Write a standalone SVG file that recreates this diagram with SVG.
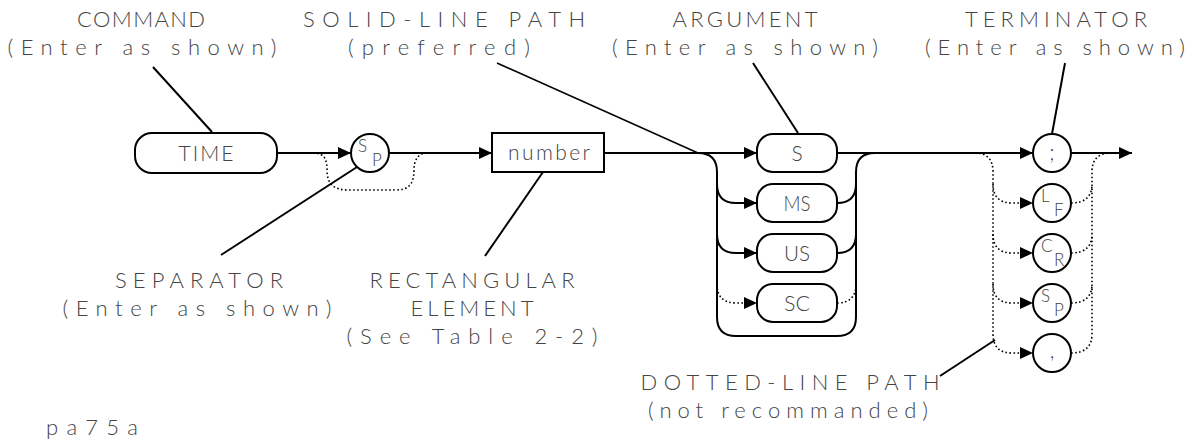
<svg xmlns="http://www.w3.org/2000/svg" width="1199" height="445" viewBox="0 0 1199 445">
<style>
.bg{fill:#fff}
.nd{fill:#fff;stroke:#000;stroke-width:2}
.cn{fill:none;stroke:#000;stroke-width:2}
.dt{fill:none;stroke:#000;stroke-width:1.6;stroke-dasharray:1.6 2.4}
.ld{fill:none;stroke:#000;stroke-width:2}
.lb{font-family:Lato,"Liberation Sans",Arial,sans-serif;font-weight:300;font-size:22px;fill:#444;text-anchor:middle}
.nt{font-family:Lato,"Liberation Sans",Arial,sans-serif;font-weight:300;font-size:21px;fill:#444;text-anchor:middle}
.ct{font-family:Lato,"Liberation Sans",Arial,sans-serif;font-weight:300;font-size:17px;fill:#444}
</style>
<defs>
<marker id="ah" markerUnits="userSpaceOnUse" markerWidth="14" markerHeight="12" refX="13" refY="6" orient="auto"><path d="M0,0 L13,6 L0,12 z" fill="#000" stroke="none"/></marker>
</defs>
<rect class="bg" x="0" y="0" width="1199" height="445"/>

<g id="connectors">
<line class="cn" x1="277" y1="153" x2="351" y2="153" marker-end="url(#ah)"/>
<path class="dt" d="M313,153 C325,153 327,160 327,170 C327,185 335,190 348,190 L395,190 C408,190 414,185 414,170 C414,160 418,153 428,153"/>
<line class="cn" x1="389" y1="153" x2="492" y2="153" marker-end="url(#ah)"/>
<line class="cn" x1="604" y1="153" x2="757" y2="153" marker-end="url(#ah)"/>
<path class="cn" d="M698,153 Q717,153 717,172 L717,317 Q717,336 736,336 L837,336 Q856,336 856,317 L856,172 Q856,153 875,153"/>
<path class="cn" d="M717,184 Q717,203 736,203 L757,203" marker-end="url(#ah)"/>
<path class="cn" d="M717,234 Q717,253 736,253 L757,253" marker-end="url(#ah)"/>
<path class="dt" d="M717,284 Q717,303 736,303 L757,303" marker-end="url(#ah)"/>
<path class="cn" d="M837,203 Q856,203 856,184"/>
<path class="cn" d="M837,253 Q856,253 856,234"/>
<path class="dt" d="M837,303 Q856,303 856,284"/>
<line class="cn" x1="837" y1="153" x2="1033" y2="153" marker-end="url(#ah)"/>
<line class="cn" x1="1071" y1="153" x2="1132" y2="153" marker-end="url(#ah)"/>
<path class="dt" d="M975,153 Q993,153 993,172 L993,334 Q993,353 1012,353 L1033,353" marker-end="url(#ah)"/>
<path class="dt" d="M993,184 Q993,203 1012,203 L1033,203" marker-end="url(#ah)"/>
<path class="dt" d="M993,234 Q993,253 1012,253 L1033,253" marker-end="url(#ah)"/>
<path class="dt" d="M993,284 Q993,303 1012,303 L1033,303" marker-end="url(#ah)"/>
<path class="dt" d="M1071,353 Q1092,353 1092,334 L1092,172 Q1092,153 1111,153"/>
<path class="dt" d="M1071,203 Q1092,203 1092,184"/>
<path class="dt" d="M1071,253 Q1092,253 1092,234"/>
<path class="dt" d="M1071,303 Q1092,303 1092,284"/>
</g>

<g id="leaders">
<line class="ld" x1="153" y1="67" x2="212" y2="132"/>
<line class="ld" x1="497" y1="63" x2="698" y2="153" style="stroke-width:1.5"/>
<line class="ld" x1="753" y1="63" x2="798" y2="133"/>
<line class="ld" x1="1065" y1="63" x2="1052" y2="134"/>
<line class="ld" x1="221" y1="255" x2="357" y2="167"/>
<line class="ld" x1="485" y1="256" x2="543" y2="172"/>
<line class="ld" x1="995" y1="340" x2="940" y2="376"/>
</g>

<g id="node-time"><rect class="nd" x="135" y="133" width="142" height="40" rx="17"/><text class="nt" x="206" y="161" textLength="55" lengthAdjust="spacing">TIME</text></g>
<g id="node-sp"><circle class="nd" cx="370" cy="153" r="19"/><text class="ct" x="358" y="152">S</text><text class="ct" x="372" y="166">P</text></g>
<g id="node-number"><rect class="nd" x="492" y="133" width="112" height="39"/><text class="nt" x="549" y="160" textLength="82" lengthAdjust="spacing">number</text></g>
<g id="node-s"><rect class="nd" x="757" y="134" width="80" height="38" rx="16"/><text class="nt" x="797" y="161">S</text></g>
<g id="node-ms"><rect class="nd" x="757" y="184" width="80" height="38" rx="16"/><text class="nt" x="797" y="211" textLength="27" lengthAdjust="spacingAndGlyphs">MS</text></g>
<g id="node-us"><rect class="nd" x="757" y="234" width="80" height="38" rx="16"/><text class="nt" x="797" y="261" textLength="26" lengthAdjust="spacingAndGlyphs">US</text></g>
<g id="node-sc"><rect class="nd" x="757" y="284" width="80" height="38" rx="16"/><text class="nt" x="797" y="311" textLength="26" lengthAdjust="spacingAndGlyphs">SC</text></g>
<g id="node-semicolon"><circle class="nd" cx="1052" cy="153" r="19"/><text class="nt" x="1052" y="160">;</text></g>
<g id="node-lf"><circle class="nd" cx="1052" cy="203" r="19"/><text class="ct" x="1041" y="202">L</text><text class="ct" x="1054" y="216">F</text></g>
<g id="node-cr"><circle class="nd" cx="1052" cy="253" r="19"/><text class="ct" x="1041" y="252">C</text><text class="ct" x="1054" y="266">R</text></g>
<g id="node-sp2"><circle class="nd" cx="1052" cy="303" r="19"/><text class="ct" x="1041" y="302">S</text><text class="ct" x="1054" y="316">P</text></g>
<g id="node-comma"><circle class="nd" cx="1052" cy="353" r="19"/><text class="nt" x="1052" y="358">,</text></g>

<g id="labels">
<text class="lb" x="141" y="27" textLength="128" lengthAdjust="spacing">COMMAND</text>
<text class="lb" x="142" y="55" textLength="269" lengthAdjust="spacing">(Enter as shown)</text>
<text class="lb" x="444" y="27" textLength="282" lengthAdjust="spacing">SOLID-LINE PATH</text>
<text class="lb" x="439" y="55" textLength="182" lengthAdjust="spacing">(preferred)</text>
<text class="lb" x="745" y="27" textLength="145" lengthAdjust="spacing">ARGUMENT</text>
<text class="lb" x="745" y="55" textLength="266" lengthAdjust="spacing">(Enter as shown)</text>
<text class="lb" x="1056" y="27" textLength="182" lengthAdjust="spacing">TERMINATOR</text>
<text class="lb" x="1055" y="55" textLength="260" lengthAdjust="spacing">(Enter as shown)</text>
<text class="lb" x="199" y="288" textLength="168" lengthAdjust="spacing">SEPARATOR</text>
<text class="lb" x="197" y="316" textLength="269" lengthAdjust="spacing">(Enter as shown)</text>
<text class="lb" x="472" y="288" textLength="205" lengthAdjust="spacing">RECTANGULAR</text>
<text class="lb" x="472" y="316" textLength="123" lengthAdjust="spacing">ELEMENT</text>
<text class="lb" x="472" y="344" textLength="251" lengthAdjust="spacing">(See Table 2-2)</text>
<text class="lb" x="790" y="390" textLength="299" lengthAdjust="spacing">DOTTED-LINE PATH</text>
<text class="lb" x="788" y="418" textLength="280" lengthAdjust="spacing">(not recommanded)</text>
<text class="lb" x="92" y="435" textLength="92" lengthAdjust="spacing">pa75a</text>
</g>
</svg>
